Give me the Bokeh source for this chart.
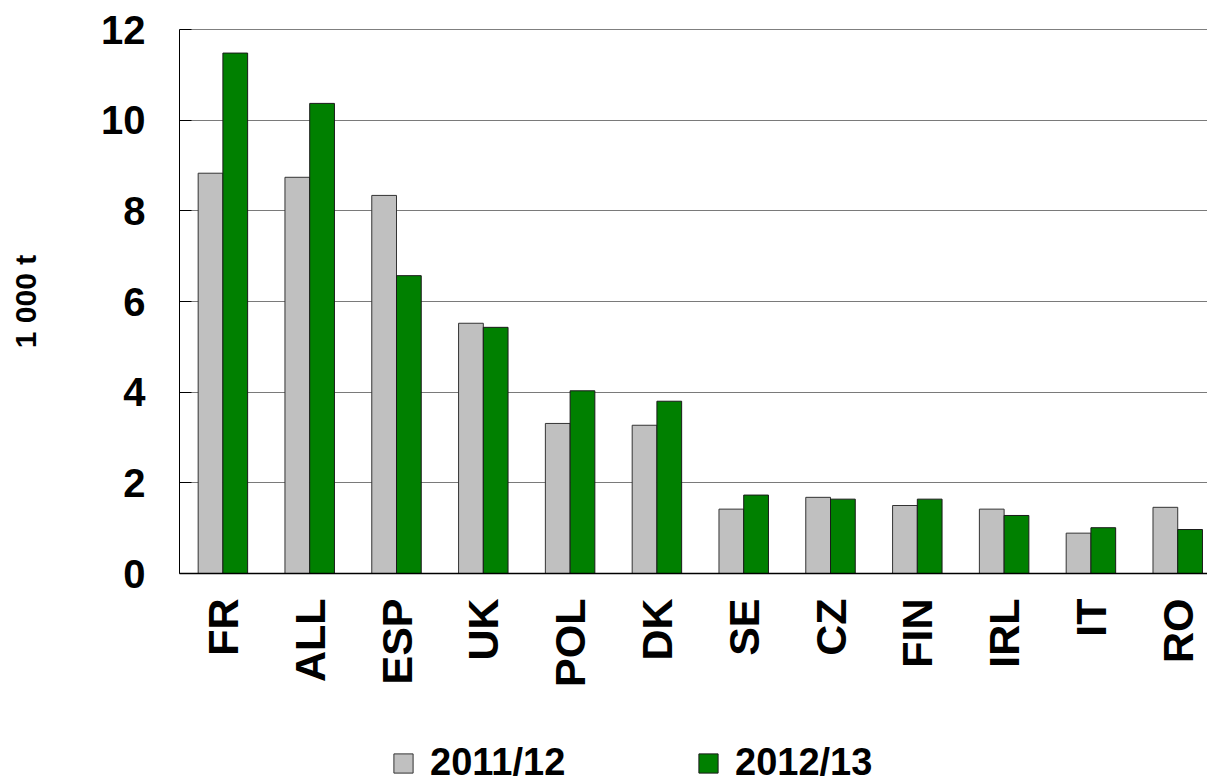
import math
from bokeh.plotting import figure
from bokeh.layouts import column
from bokeh.models import (ColumnDataSource, FixedTicker, Legend, LegendItem, Range1d, Span)
from bokeh.embed import file_html
from bokeh.resources import INLINE

categories = ["FR", "ALL", "ESP", "UK", "POL", "DK", "SE", "CZ", "FIN", "IRL", "IT", "RO"]
series_names = ["2011/12", "2012/13"]
values_2011 = [8.83, 8.74, 8.34, 5.52, 3.31, 3.27, 1.42, 1.68, 1.50, 1.42, 0.89, 1.46]
values_2012 = [11.48, 10.37, 6.57, 5.43, 4.03, 3.80, 1.73, 1.64, 1.64, 1.28, 1.01, 0.97]
y_ticks = [0, 2, 4, 6, 8, 10, 12]

FONT = "Liberation Sans"
GREY = "#C0C0C0"
GREEN = "#008000"
GREY_LINE = "#333333"
GREEN_LINE = "#1a1a1a"

centers = [i + 0.5 for i in range(len(categories))]
bw = 0.285
src1 = ColumnDataSource(dict(x=[c - bw / 2 for c in centers], top=values_2011))
src2 = ColumnDataSource(dict(x=[c + bw / 2 for c in centers], top=values_2012))

H_MAIN = 730
p = figure(width=1207, height=H_MAIN, output_backend="svg", toolbar_location=None,
           x_range=Range1d(0, 11.843), y_range=Range1d(0, 12),
           min_border_left=179, min_border_right=0, min_border_top=29,
           min_border_bottom=H_MAIN - 573)
p.background_fill_color = "white"
p.border_fill_color = "white"
p.outline_line_color = None

p.vbar(x="x", top="top", width=bw, source=src1, fill_color=GREY,
       line_color=GREY_LINE, line_width=1)
p.vbar(x="x", top="top", width=bw, source=src2, fill_color=GREEN,
       line_color=GREEN_LINE, line_width=1)

# grid
p.xgrid.grid_line_color = None
p.ygrid.grid_line_color = "#7a7a7a"
p.ygrid.grid_line_width = 1
p.ygrid.ticker = FixedTicker(ticks=y_ticks)
p.add_layout(Span(location=12, dimension="width", line_color="black", line_width=1.2))

# y axis
ya = p.yaxis[0]
ya.ticker = FixedTicker(ticks=y_ticks)
ya.major_label_text_font = FONT
ya.major_label_text_font_style = "bold"
ya.major_label_text_font_size = "40px"
ya.major_label_text_color = "black"
ya.major_label_standoff = 34
ya.major_tick_in = 12
ya.major_tick_out = 0
ya.major_tick_line_color = "black"
ya.minor_tick_line_color = None
ya.axis_line_color = "black"
ya.axis_label = "1 000 t"
ya.axis_label_text_font = FONT
ya.axis_label_text_font_style = "bold"
ya.axis_label_text_font_size = "30px"
ya.axis_label_text_color = "black"
ya.axis_label_standoff = 56

# x axis
xa = p.xaxis[0]
xa.ticker = FixedTicker(ticks=centers)
xa.major_label_overrides = {c: lab for c, lab in zip(centers, categories)}
xa.major_label_orientation = math.pi / 2
xa.major_label_text_font = FONT
xa.major_label_text_font_style = "bold"
xa.major_label_text_font_size = "43px"
xa.major_label_text_color = "black"
xa.major_label_standoff = 25
xa.major_tick_in = 0
xa.major_tick_out = 0
xa.minor_tick_line_color = None
xa.axis_line_color = "black"
xa.axis_line_width = 1.5

# legend strip below the chart (its frame is aligned with the chart's frame)
H_LEG = 783 - H_MAIN
q = figure(width=1207, height=H_LEG, output_backend="svg", toolbar_location=None,
           x_range=Range1d(-200, -199), y_range=Range1d(200, 201),
           x_axis_location=None, y_axis_location=None,
           min_border_left=179, min_border_right=0, min_border_top=0, min_border_bottom=0)
q.outline_line_color = None
q.xgrid.grid_line_color = None
q.ygrid.grid_line_color = None
q.background_fill_color = "white"
q.border_fill_color = "white"
# same series, kept out of this strip's view: only their legend swatches show
k1 = q.vbar(x="x", top="top", width=bw, source=src1, fill_color=GREY,
            line_color=GREY_LINE, line_width=1)
k2 = q.vbar(x="x", top="top", width=bw, source=src2, fill_color=GREEN,
            line_color=GREEN_LINE, line_width=1)

legend = Legend(items=[LegendItem(label=series_names[0], renderers=[k1]),
                       LegendItem(label=series_names[1], renderers=[k2])],
                orientation="horizontal", location=(212, -1))
legend.label_text_font = FONT
legend.label_text_font_style = "bold"
legend.label_text_font_size = "38px"
legend.label_text_color = "black"
legend.glyph_width = 24
legend.glyph_height = 24
legend.label_standoff = 15
legend.label_width = 150
legend.spacing = 116
legend.padding = 0
legend.margin = 0
legend.border_line_color = None
legend.background_fill_alpha = 0
q.add_layout(legend, "center")

layout = column(p, q, spacing=0)
open("out.html", "w").write(file_html(layout, INLINE))
